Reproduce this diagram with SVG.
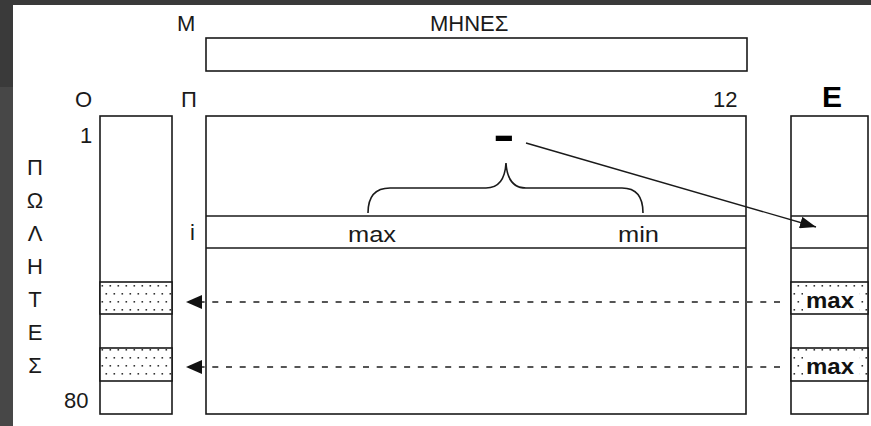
<svg xmlns="http://www.w3.org/2000/svg" width="871" height="426" viewBox="0 0 871 426">
  <style>
    .box { fill: #ffffff; stroke: #1a1a1a; stroke-width: 1.6; }
    .dot { fill: url(#dots); stroke: #1a1a1a; stroke-width: 1.6; }
    .div { stroke: #1a1a1a; stroke-width: 1.6; }
    .lbl { font-family: "Liberation Sans", Arial, sans-serif; font-size: 22px; fill: #1a1a1a; }
    .bmax { font-family: "Liberation Sans", Arial, sans-serif; font-size: 22px; font-weight: bold; fill: #111; }
    .dash { stroke: #555; stroke-width: 2; stroke-dasharray: 6 7.7; fill: none; }
  </style>
  <defs>
    <pattern id="dots" patternUnits="userSpaceOnUse" width="8" height="16" x="100" y="282">
      <rect width="8" height="16" fill="#ffffff"/>
      <rect x="1.5" y="3" width="1.6" height="1.6" fill="#333"/>
      <rect x="5.5" y="11" width="1.6" height="1.6" fill="#333"/>
    </pattern>
    <marker id="ah" markerWidth="16" markerHeight="12" refX="16" refY="6" orient="auto" markerUnits="userSpaceOnUse">
      <path d="M0,0 L16,6 L0,12 Z" fill="#111"/>
    </marker>
  </defs>

  <!-- background frame -->
  <rect x="0" y="0" width="871" height="426" fill="#3a3a3a"/>
  <rect x="0" y="87" width="13" height="339" fill="#474747"/>
  <rect x="13" y="5" width="858" height="421" fill="#ffffff"/>

  <!-- months bar -->
  <g id="months">
    <text class="lbl" x="177" y="31">Μ</text>
    <text class="lbl" x="430" y="31">ΜΗΝΕΣ</text>
    <rect class="box" x="206" y="38" width="541" height="33"/>
  </g>

  <!-- side label -->
  <g id="sellers-label" class="lbl" text-anchor="middle">
    <text x="35" y="175">Π</text>
    <text x="35" y="208">Ω</text>
    <text x="35" y="241">Λ</text>
    <text x="35" y="274">Η</text>
    <text x="35" y="307">Τ</text>
    <text x="35" y="340">Ε</text>
    <text x="35" y="373">Σ</text>
  </g>

  <!-- O column -->
  <g id="col-O">
    <text class="lbl" x="75" y="107">Ο</text>
    <text class="lbl" x="80" y="143">1</text>
    <text class="lbl" x="64" y="408">80</text>
    <rect class="box" x="100" y="116" width="72" height="298"/>
    <rect class="dot" x="100" y="282" width="72" height="32"/>
    <rect class="dot" x="100" y="348" width="72" height="33"/>
  </g>

  <!-- main matrix P -->
  <g id="matrix-P">
    <text class="lbl" x="181" y="107">Π</text>
    <text class="lbl" x="713" y="107">12</text>
    <text class="lbl" x="190" y="240">i</text>
    <rect class="box" x="206" y="116" width="540" height="298"/>
    <line class="div" x1="206" y1="216" x2="746" y2="216"/>
    <line class="div" x1="206" y1="248" x2="746" y2="248"/>
    <text class="lbl" x="348" y="242" textLength="48" lengthAdjust="spacingAndGlyphs">max</text>
    <text class="lbl" x="618" y="242" textLength="41" lengthAdjust="spacingAndGlyphs">min</text>
    <path d="M368,213 C368,196 376,188 390,188 L486,188 C498,188 505,180 506,163 C507,180 514,188 526,188 L622,188 C636,188 643,196 643,213" fill="none" stroke="#1a1a1a" stroke-width="1.6"/>
    <text x="504" y="150" font-family="Liberation Sans, Arial, sans-serif" font-size="44" font-weight="bold" fill="#000" text-anchor="middle" transform="translate(504,0) scale(1.45,1) translate(-504,0)">-</text>
  </g>

  <!-- E column -->
  <g id="col-E">
    <text x="832" y="107" font-family="Liberation Sans, Arial, sans-serif" font-size="30" font-weight="bold" fill="#000" text-anchor="middle">E</text>
    <rect class="box" x="791" y="116" width="77" height="298"/>
    <line class="div" x1="791" y1="216" x2="868" y2="216"/>
    <line class="div" x1="791" y1="248" x2="868" y2="248"/>
    <rect class="dot" x="791" y="282" width="77" height="32"/>
    <rect class="dot" x="791" y="348" width="77" height="33"/>
    <rect x="803" y="289" width="56" height="22" fill="#ffffff"/>
    <rect x="803" y="355" width="56" height="22" fill="#ffffff"/>
    <text class="bmax" x="830" y="308" text-anchor="middle" textLength="48" lengthAdjust="spacingAndGlyphs">max</text>
    <text class="bmax" x="830" y="374" text-anchor="middle" textLength="48" lengthAdjust="spacingAndGlyphs">max</text>
  </g>

  <!-- connectors -->
  <g id="connectors">
    <line x1="526" y1="143" x2="816" y2="227" stroke="#1a1a1a" stroke-width="1.4" marker-end="url(#ah)"/>
    <line class="dash" x1="780" y1="302" x2="202" y2="302"/>
    <line class="dash" x1="780" y1="367" x2="202" y2="367"/>
    <path d="M186,302 L202,295 L202,309 Z" fill="#111"/>
    <path d="M186,367 L202,360 L202,374 Z" fill="#111"/>
  </g>
</svg>
